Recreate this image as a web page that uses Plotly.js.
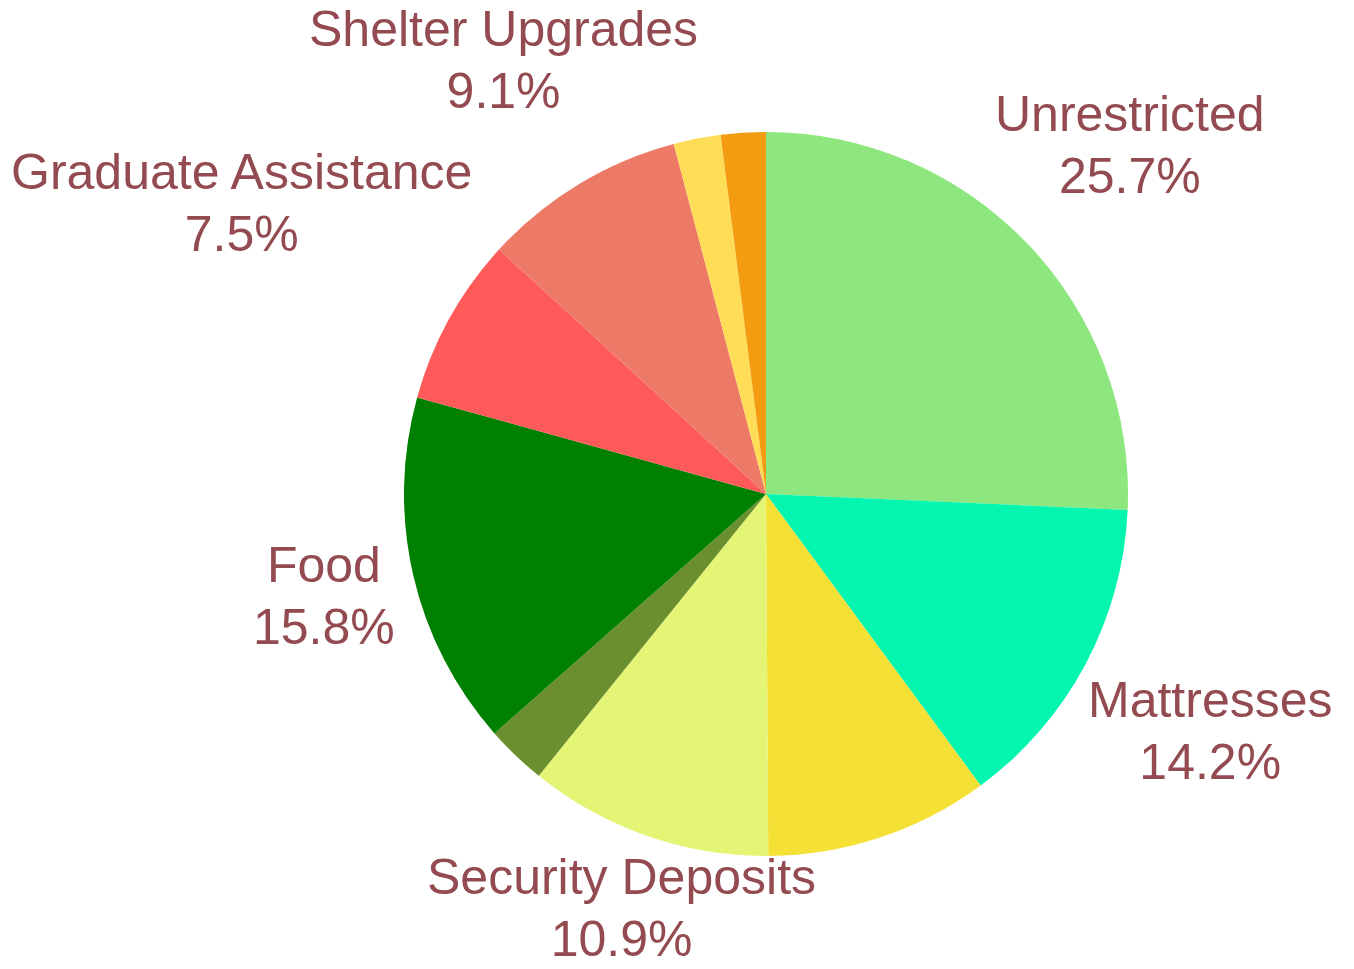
<!DOCTYPE html>
<html>
<head>
<meta charset="utf-8">
<script src="https://cdn.plot.ly/plotly-3.0.1.min.js"></script>
<style>html,body{margin:0;padding:0;background:#fff;}#chart{width:1354px;height:969px;}</style>
</head>
<body>
<div id="chart"></div>
<script>
const categories = ["Unrestricted", "Mattresses", "Bedding", "Security Deposits", "Transportation", "Food", "Graduate Assistance", "Shelter Upgrades", "Hygiene", "Other"];
const values = [25.7, 14.2, 10.0, 10.9, 2.7, 15.8, 7.5, 9.1, 2.1, 2.0];
const showLabel = [true, true, false, true, false, true, true, true, false, false];
const colors = ["#8ee77e", "#03f5b0", "#f5e035", "#e4f475", "#6b8e2f", "#008000", "#ff5a5a", "#ec7a66", "#ffdd57", "#f39c12"];

// figure geometry
const W = 1354, H = 969;
const PIE_CX = 766, PIE_CY = 494, PIE_R = 362;
const FONT = "Liberation Sans, Arial, sans-serif";
const FONT_PX = 50, BASE_PX = 47.5;
const LABEL_COLOR = "#934a50";

const total = values.reduce((s, v) => s + v, 0);

// measure label widths
const ctx = document.createElement("canvas").getContext("2d");
ctx.font = FONT_PX + "px 'Liberation Sans'";

const annotations = [];
let cum = 0;
values.forEach((v, i) => {
  const mid = (cum + v / 2) / total;
  cum += v;
  if (!showLabel[i]) return;
  const pct = (100 * v / total).toFixed(1) + "%";
  const lines = [categories[i], pct];
  const a = Math.max(...lines.map(t => ctx.measureText(t).width)) / 2;
  const b = (0.688 * FONT_PX + BASE_PX * 1.3) / 2;
  const th = 2 * Math.PI * mid;
  const s = Math.sin(th), c = -Math.cos(th);
  let D = 373.5 + a * Math.abs(s) + b * Math.abs(c);
  const fits = d => {
    const x = PIE_CX + d * s, y = PIE_CY + d * c;
    return x - a >= 5 && x + a <= W - 5 && y - b >= 12 && y + b <= H - 12;
  };
  while (!fits(D) && D > PIE_R) D -= 0.5;
  const px = PIE_CX + D * s, py = PIE_CY + D * c;
  annotations.push({
    xref: "paper", yref: "paper",
    x: px / W, y: 1 - py / H,
    xanchor: "center", yanchor: "middle",
    showarrow: false,
    align: "center",
    text: lines.map(t => '<span style="font-size:' + FONT_PX + 'px">' + t + '</span>').join("<br>"),
    font: {family: FONT, size: BASE_PX, color: LABEL_COLOR}
  });
});

Plotly.newPlot("chart", [{
  type: "pie",
  labels: categories,
  values: values,
  textinfo: "none",
  sort: false,
  direction: "clockwise",
  rotation: 0,
  marker: {colors: colors, line: {width: 0}},
  hoverinfo: "label+percent",
  domain: {x: [(PIE_CX - PIE_R) / W, (PIE_CX + PIE_R) / W], y: [(H - PIE_CY - PIE_R) / H, (H - PIE_CY + PIE_R) / H]}
}], {
  width: W,
  height: H,
  showlegend: false,
  margin: {l: 0, r: 0, t: 0, b: 0},
  paper_bgcolor: "#ffffff",
  annotations: annotations
}, {displayModeBar: false});
</script>
</body>
</html>
